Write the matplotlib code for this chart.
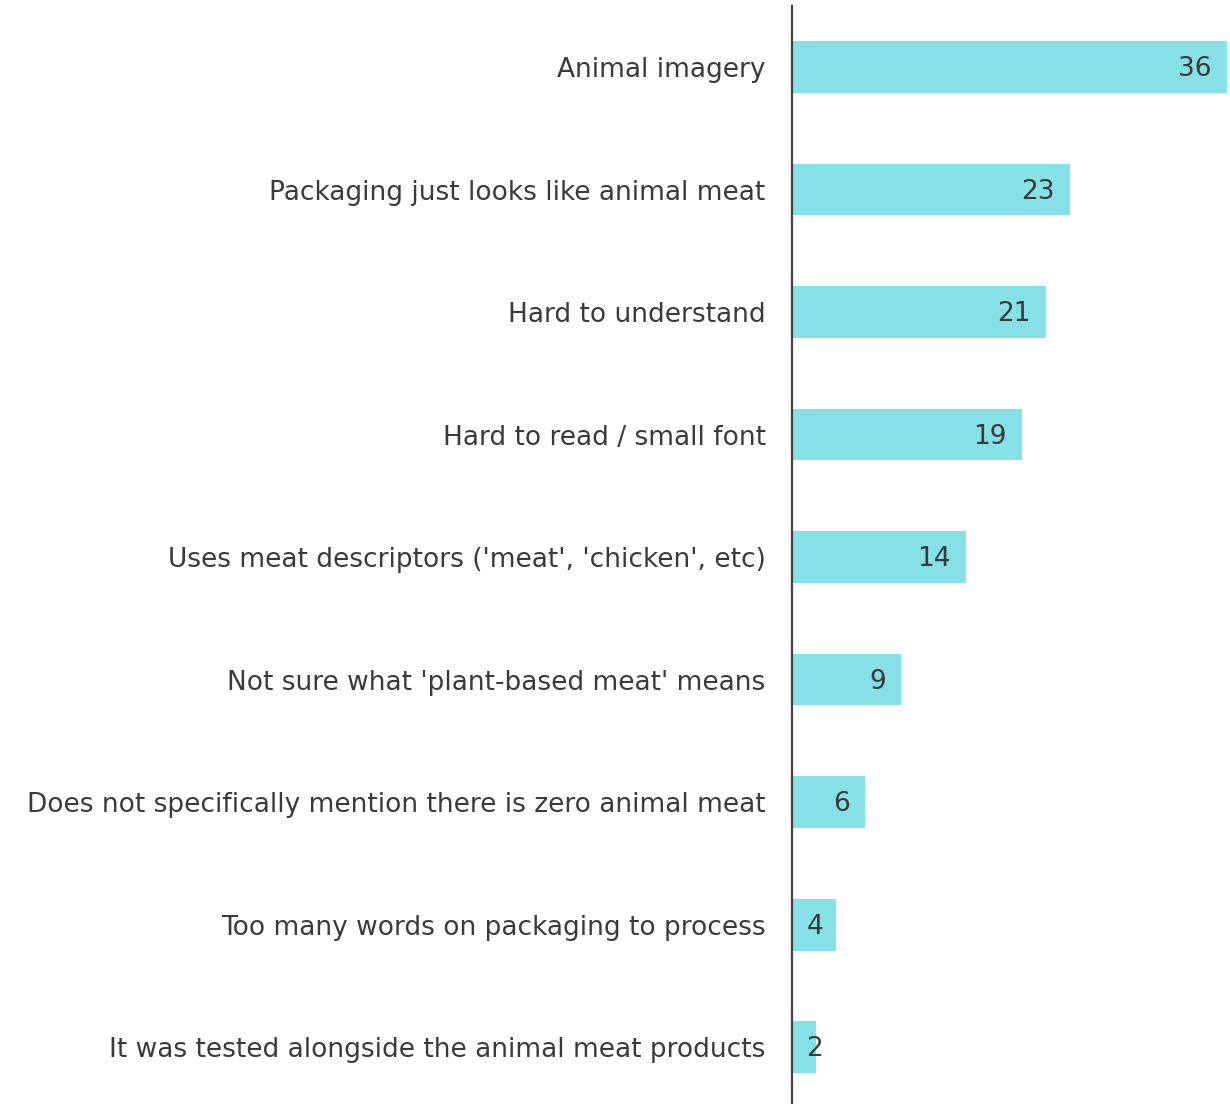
import matplotlib
matplotlib.use('Agg')
import matplotlib.pyplot as plt

categories = [
    "Animal imagery",
    "Packaging just looks like animal meat",
    "Hard to understand",
    "Hard to read / small font",
    "Uses meat descriptors ('meat', 'chicken', etc)",
    "Not sure what 'plant-based meat' means",
    "Does not specifically mention there is zero animal meat",
    "Too many words on packaging to process",
    "It was tested alongside the animal meat products",
]
values = [36, 23, 21, 19, 14.4, 9, 6, 3.6, 2]

bar_color = '#86E1E6'
text_color = '#3a3a3a'
W, H = 1230, 1104

fig = plt.figure(figsize=(W / 100, H / 100), dpi=100)
ax = fig.add_axes([792 / W, 0, (1227 - 792) / W, (H - 6) / H])

pos = list(range(len(categories)))
ax.barh(pos, values, height=0.424, color=bar_color)
ax.set_xlim(0, 36)
ax.set_ylim(8.465, -0.498)

ax.set_yticks(pos)
ax.set_yticklabels(categories, fontsize=19, color=text_color, family='DejaVu Sans')
ax.tick_params(axis='y', length=0, pad=19)
ax.set_xticks([])

for s in ['top', 'right', 'bottom']:
    ax.spines[s].set_visible(False)
ax.spines['left'].set_color('#404040')
ax.spines['left'].set_linewidth(1.6)

unit = 435 / 36  # pixels per unit
for i, v in enumerate(values):
    x = max(v - 15 / unit, 31 / unit)
    ax.text(x, i + 0.02, f"{v:.0f}", ha='right', va='center', fontsize=19,
            color=text_color, family='DejaVu Sans')

fig.savefig('out.png', dpi=100)
